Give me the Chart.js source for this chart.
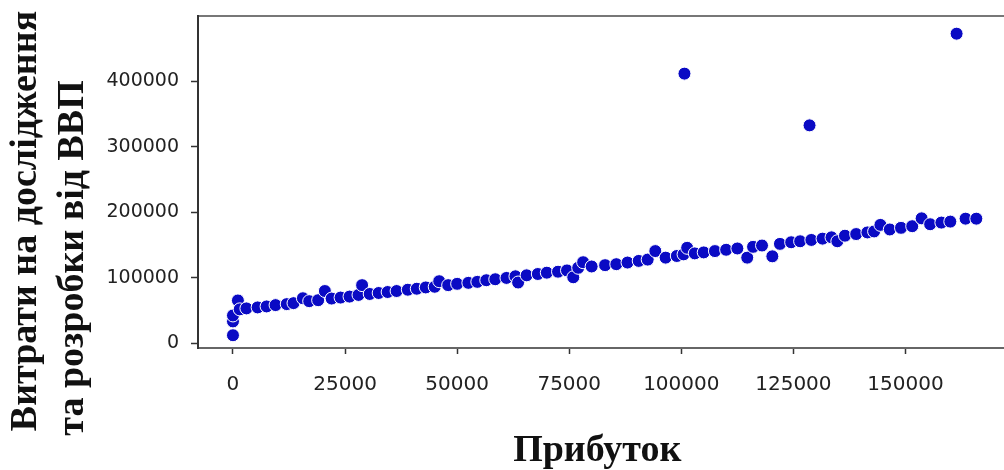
<!DOCTYPE html>
<html>
<head>
<meta charset="utf-8">
<script src="https://cdn.jsdelivr.net/npm/chart.js@4.4.1/dist/chart.umd.min.js"></script>
<style>
  html, body { margin: 0; padding: 0; background: #ffffff; }
  #wrap { width: 1004px; height: 470px; position: relative; }
</style>
</head>
<body>
<div id="wrap"><canvas id="c" width="1004" height="470"></canvas></div>
<script>
// ---- data ----
const profitX = [0, 0, 0, 1100, 1500, 3000, 5500, 7500, 9500, 12000, 13500, 15600, 17000, 19000, 20500, 22000, 24000, 26000, 28000, 28800, 30500, 32500, 34500, 36500, 39000, 41000, 43000, 45000, 46000, 48000, 50000, 52500, 54500, 56500, 58500, 61000, 63000, 63600, 65500, 68000, 70000, 72500, 74500, 75900, 77000, 78100, 80000, 83000, 85500, 88000, 90500, 92500, 94200, 96500, 99000, 100500, 101300, 103000, 105000, 107500, 110000, 112500, 114700, 116000, 118000, 120300, 122000, 124500, 126500, 129000, 131500, 133500, 134800, 136500, 139000, 141500, 143000, 144400, 146500, 149000, 151500, 153600, 155500, 158000, 160000, 163400, 165800, 100700, 128600, 161400];
const rdSpendY = [12500, 33600, 42700, 65600, 52000, 53500, 55000, 56500, 58500, 60000, 61500, 69000, 64500, 66000, 80000, 68500, 70000, 71500, 74000, 89000, 75500, 77000, 78500, 80000, 82000, 83500, 85500, 86500, 95000, 89000, 91000, 92500, 94000, 96500, 98000, 100000, 102500, 93000, 104000, 106000, 108000, 109500, 111500, 101000, 115500, 124000, 117500, 119500, 121000, 123500, 126000, 128000, 141000, 131000, 133500, 136000, 146000, 137500, 139000, 141000, 143000, 145000, 131000, 147500, 149500, 133000, 152000, 154500, 156000, 158000, 160000, 162000, 156000, 164500, 167000, 169500, 171000, 181000, 174000, 176500, 179000, 191000, 182000, 184500, 186000, 190500, 190500, 412000, 333000, 473000];
const xTickValues = [0, 25000, 50000, 75000, 100000, 125000, 150000];
const yTickValues = [0, 100000, 200000, 300000, 400000];
const xTitle = 'Прибуток';
const yTitleLines = ['Витрати на дослідження', 'та розробки від ВВП'];

const points = profitX.map((x, i) => ({ x: x, y: rdSpendY[i] }));

const frame = {
  id: 'frame',
  beforeDatasetsDraw(chart) {
    const { ctx, chartArea } = chart;
    ctx.save();
    ctx.lineWidth = 2;
    ctx.strokeStyle = '#777777';
    ctx.beginPath();
    ctx.moveTo(chartArea.left, chartArea.top);
    ctx.lineTo(chart.width, chartArea.top);
    ctx.stroke();
    ctx.strokeStyle = '#666666';
    ctx.beginPath();
    ctx.moveTo(chartArea.left - 1, chartArea.bottom);
    ctx.lineTo(chart.width, chartArea.bottom);
    ctx.stroke();
    ctx.strokeStyle = '#333333';
    ctx.beginPath();
    ctx.moveTo(chartArea.left, chartArea.top - 1);
    ctx.lineTo(chartArea.left, chartArea.bottom + 1);
    ctx.stroke();
    ctx.restore();
  },
  afterDraw(chart) {
    const { ctx } = chart;
    ctx.save();
    ctx.fillStyle = '#111111';
    ctx.font = 'bold 38px "Liberation Serif", "Times New Roman", serif';
    ctx.textAlign = 'center';
    ctx.textBaseline = 'middle';
    const pos = [[26, 221], [73, 258]];
    yTitleLines.forEach((t, i) => {
      ctx.save();
      ctx.translate(pos[i][0], pos[i][1]);
      ctx.rotate(-Math.PI / 2);
      ctx.fillText(t, 0, 0);
      ctx.restore();
    });
    ctx.restore();
  }
};

new Chart(document.getElementById('c'), {
  type: 'scatter',
  data: {
    datasets: [{
      data: points,
      backgroundColor: '#0a0ac4',
      borderColor: '#ffffff',
      borderWidth: 1,
      pointRadius: 6.5,
      pointHoverRadius: 6.5,
      clip: false
    }]
  },
  options: {
    responsive: false,
    animation: false,
    events: [],
    layout: { padding: { top: 16, right: 0, left: 0, bottom: 0 } },
    plugins: { legend: { display: false }, tooltip: { enabled: false } },
    scales: {
      x: {
        type: 'linear',
        min: -7800,
        max: 170300,
        afterBuildTicks: (s) => { s.ticks = xTickValues.map(v => ({ value: v })); },
        afterFit: (s) => { s.height = 122; s.paddingLeft = 0; s.paddingRight = 0; },
        grid: { drawOnChartArea: false, drawTicks: true, tickLength: 6, tickColor: '#333333', tickWidth: 1.5 },
        border: { display: false },
        ticks: {
          color: '#222222',
          font: { family: '"DejaVu Sans", sans-serif', size: 20 },
          padding: 19,
          maxRotation: 0,
          autoSkip: false,
          callback: (v) => String(v)
        },
        title: {
          display: true,
          text: xTitle,
          color: '#111111',
          font: { family: '"Liberation Serif", "Times New Roman", serif', size: 38, weight: 'bold', lineHeight: 1.0 },
          padding: { top: 30, bottom: 0 }
        }
      },
      y: {
        type: 'linear',
        min: -7000,
        max: 500000,
        afterBuildTicks: (s) => { s.ticks = yTickValues.map(v => ({ value: v })); },
        afterFit: (s) => { s.width = 198; s.paddingTop = 0; s.paddingBottom = 0; },
        grid: { drawOnChartArea: false, drawTicks: true, tickLength: 7, tickColor: '#333333', tickWidth: 1.5 },
        border: { display: false },
        ticks: {
          color: '#222222',
          font: { family: '"DejaVu Sans", sans-serif', size: 19 },
          padding: 12,
          autoSkip: false,
          callback: (v) => String(v)
        }
      }
    }
  },
  plugins: [frame]
});
</script>
</body>
</html>
